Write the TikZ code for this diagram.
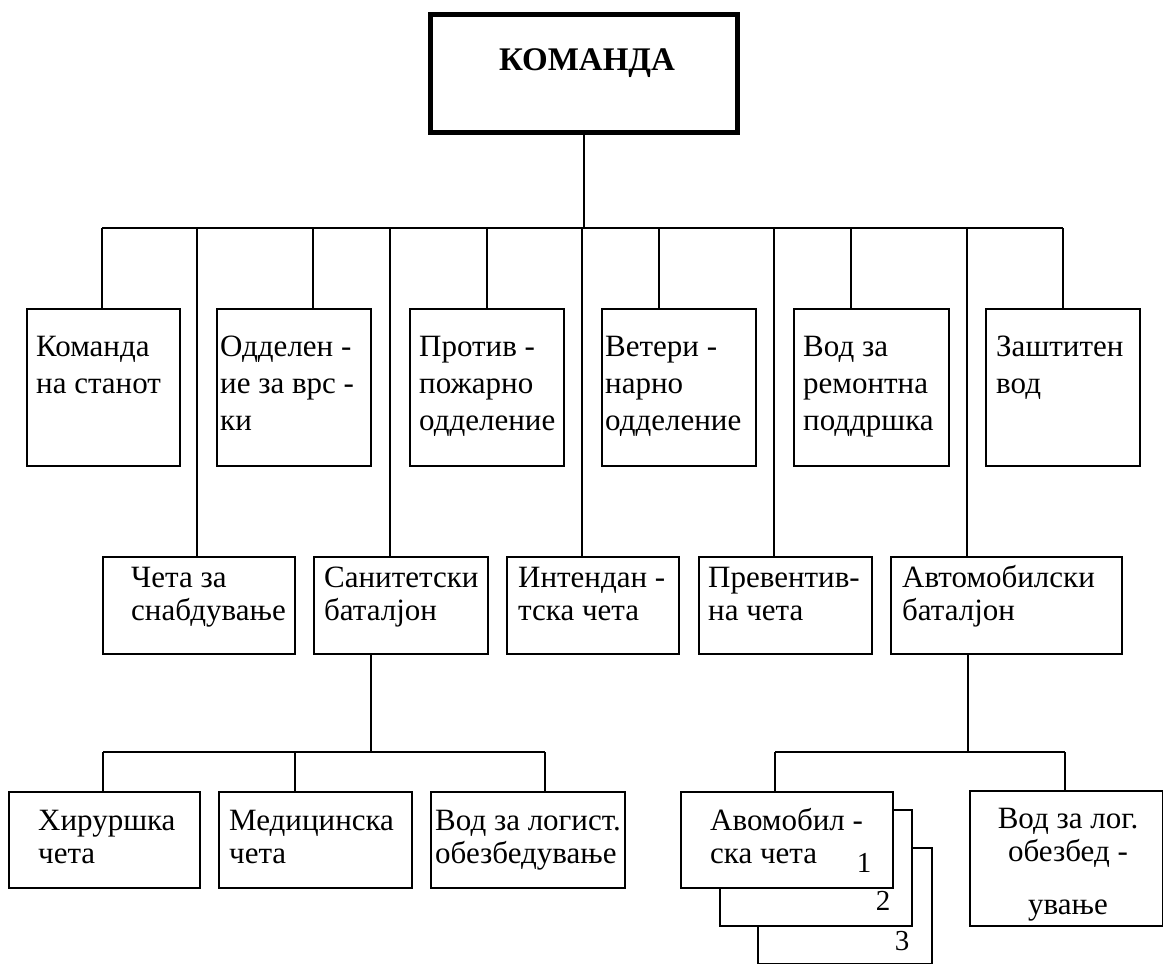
\documentclass[tikz,border=0pt]{standalone}
\usepackage{fontspec}
\setmainfont{Liberation Serif}
\usetikzlibrary{calc}
\newcommand\mstrut{\rule{0pt}{22pt}}
\begin{document}
\begin{tikzpicture}[x=1pt,y=-1pt,
  box/.style={draw,line width=1.8pt,fill=white,inner sep=0pt,anchor=north west},
  lbl/.style={anchor=north west,inner sep=0pt,align=left,font=\fontsize{31}{33}\selectfont},
  lblA/.style={lbl,font=\fontsize{31}{37}\selectfont},
  wire/.style={line width=1.8pt},
  num/.style={font=\fontsize{29}{29}\selectfont,inner sep=0pt}]
\useasboundingbox (0,0) rectangle (1163,964);

% top box
\node[box,line width=5pt,minimum width=307pt,minimum height=118pt] (k) at (428,12) {};
\node[font=\bfseries\fontsize{33}{33}\selectfont,inner sep=0pt] (kt) at (587,63) {КОМАНДА};

% row 1
\node[box,minimum width=153pt,minimum height=157pt] (b1) at (26,308) {};
\node[box,minimum width=154pt,minimum height=157pt] (b2) at (216,308) {};
\node[box,minimum width=154pt,minimum height=157pt] (b3) at (409,308) {};
\node[box,minimum width=154pt,minimum height=157pt] (b4) at (601,308) {};
\node[box,minimum width=155pt,minimum height=157pt] (b5) at (793,308) {};
\node[box,minimum width=154pt,minimum height=157pt] (b6) at (985,308) {};
\node[lblA] (tb1) at ($(b1.north west)+(10,26)$) {\mstrut Команда\\на станот};
\node[lblA] (tb2) at ($(b2.north west)+(4,26)$) {\mstrut Одделен -\\ие за врс -\\ки};
\node[lblA] (tb3) at ($(b3.north west)+(10,26)$) {\mstrut Против -\\пожарно\\одделение};
\node[lblA] (tb4) at ($(b4.north west)+(4,26)$) {\mstrut Ветери -\\нарно\\одделение};
\node[lblA] (tb5) at ($(b5.north west)+(10,26)$) {\mstrut Вод за\\ремонтна\\поддршка};
\node[lblA] (tb6) at ($(b6.north west)+(11,26)$) {\mstrut Заштитен\\вод};

% row 2
\node[box,minimum width=192pt,minimum height=97pt] (c1) at (102,556) {};
\node[box,minimum width=174pt,minimum height=97pt] (c2) at (313,556) {};
\node[box,minimum width=172pt,minimum height=97pt] (c3) at (506,556) {};
\node[box,minimum width=173pt,minimum height=97pt] (c4) at (698,556) {};
\node[box,minimum width=231pt,minimum height=97pt] (c5) at (890,556) {};
\node[lbl] (tc1) at ($(c1.north west)+(29,9)$) {\mstrut Чета за\\снабдување};
\node[lbl] (tc2) at ($(c2.north west)+(11,9)$) {\mstrut Санитетски\\баталјон};
\node[lbl] (tc3) at ($(c3.north west)+(12,9)$) {\mstrut Интендан -\\тска чета};
\node[lbl] (tc4) at ($(c4.north west)+(10,9)$) {\mstrut Превентив-\\на чета};
\node[lbl] (tc5) at ($(c5.north west)+(12,9)$) {\mstrut Автомобилски\\баталјон};

% row 3
\node[box,minimum width=191pt,minimum height=96pt] (d1) at (8,791) {};
\node[box,minimum width=193pt,minimum height=96pt] (d2) at (218,791) {};
\node[box,minimum width=194pt,minimum height=96pt] (d3) at (430,791) {};
\node[box,minimum width=174pt,minimum height=116pt] (d4c) at (757,847) {};
\node[box,minimum width=192pt,minimum height=116pt] (d4b) at (719,809) {};
\node[box,minimum width=212pt,minimum height=96pt] (d4) at (680,791) {};
\node[box,minimum width=193pt,minimum height=135pt] (d5) at (969,790) {};
\node[lbl] (td1) at ($(d1.north west)+(30,17)$) {\mstrut Хируршка\\чета};
\node[lbl] (td2) at ($(d2.north west)+(11,17)$) {\mstrut Медицинска\\чета};
\node[lbl] (td3) at ($(d3.north west)+(5,17)$) {\mstrut Вод за логист.\\обезбедување};
\node[lbl] (td4) at ($(d4.north west)+(30,17)$) {\mstrut Авомобил -\\ска чета};
\node[lbl,anchor=north,align=center] (td5) at (1068,806) {\mstrut Вод за лог.\\обезбед -\\[20pt]ување};
\node[num] (n1) at (864,863) {1};
\node[num] (n2) at (883,901) {2};
\node[num] (n3) at (902,941) {3};

% top bus
\coordinate (busL) at (102,228);
\coordinate (busR) at (1063,228);
\draw[wire] (busL) -- (busR);
\draw[wire] (k.south) -- (k.south |- busL);
\coordinate (j2) at (313,228);
\coordinate (j3) at (487,228);
\coordinate (j4) at (659,228);
\coordinate (j5) at (851,228);
\draw[wire] (busL) -- (busL |- b1.north);
\draw[wire] (j2) -- (j2 |- b2.north);
\draw[wire] (j3) -- (j3 |- b3.north);
\draw[wire] (j4) -- (j4 |- b4.north);
\draw[wire] (j5) -- (j5 |- b5.north);
\draw[wire] (busR) -- (busR |- b6.north);
\coordinate (p1) at (197,228);
\coordinate (p2) at (390,228);
\coordinate (p3) at (582,228);
\coordinate (p4) at (774,228);
\coordinate (p5) at (967,228);
\draw[wire] (p1) -- (p1 |- c1.north);
\draw[wire] (p2) -- (p2 |- c2.north);
\draw[wire] (p3) -- (p3 |- c3.north);
\draw[wire] (p4) -- (p4 |- c4.north);
\draw[wire] (p5) -- (p5 |- c5.north);

% lower left bus
\coordinate (lv) at (371,752);
\coordinate (lL) at (103,752);
\coordinate (lM) at (295,752);
\coordinate (lR) at (545,752);
\draw[wire] (lv |- c2.south) -- (lv);
\draw[wire] (lL) -- (lR);
\draw[wire] (lL) -- (lL |- d1.north);
\draw[wire] (lM) -- (lM |- d2.north);
\draw[wire] (lR) -- (lR |- d3.north);

% lower right bus
\coordinate (rv) at (968,752);
\coordinate (rL) at (775,752);
\coordinate (rR) at (1065,752);
\draw[wire] (rv |- c5.south) -- (rv);
\draw[wire] (rL) -- (rR);
\draw[wire] (rL) -- (rL |- d4.north);
\draw[wire] (rR) -- (rR |- d5.north);
\end{tikzpicture}
\end{document}
